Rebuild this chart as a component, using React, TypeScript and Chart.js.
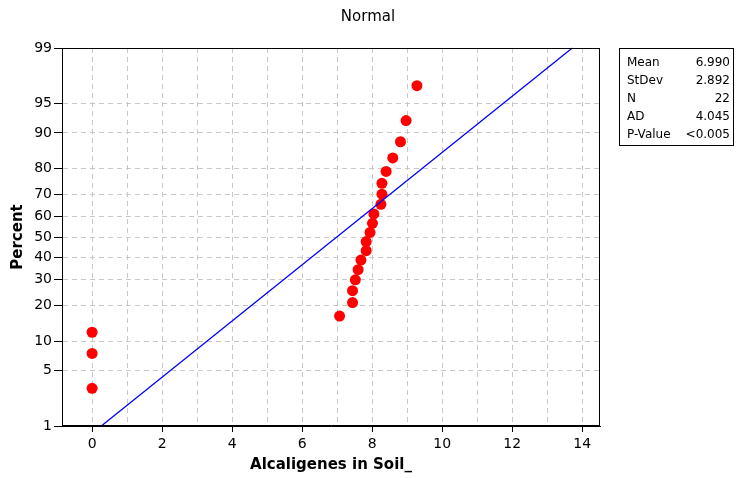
import React, { useEffect, useRef } from 'react';
import { Chart, registerables, LinearScale } from 'chart.js';

Chart.register(...registerables);

// ---- data ----
const xValues = [0, 0, 0, 7.07, 7.44, 7.44, 7.52, 7.6, 7.68, 7.83, 7.83, 7.94, 8.01, 8.05, 8.25, 8.28, 8.28, 8.4, 8.59, 8.81, 8.97, 9.28];
const percentValues = [3.125, 7.589, 12.054, 16.518, 20.982, 25.446, 29.911, 34.375, 38.839, 43.304, 47.768, 52.232, 56.696, 61.161, 65.625, 70.089, 74.554, 79.018, 83.482, 87.946, 92.411, 96.875];
const yTickPercents = [1, 5, 10, 20, 30, 40, 50, 60, 70, 80, 90, 95, 99];
const xTickValues = [0, 1, 2, 3, 4, 5, 6, 7, 8, 9, 10, 11, 12, 13, 14];
const statLabels = ['Mean', 'StDev', 'N', 'AD', 'P-Value'];
const statValues = ['6.990', '2.892', '22', '4.045', '<0.005'];
const fitMean = 6.99;
const fitStDev = 2.892;
const linePercents = [1, 99];

const FONT = "'DejaVu Sans', sans-serif";

function normInv(p: number): number {
  const a = [-3.969683028665376e1, 2.209460984245205e2, -2.759285104469687e2, 1.38357751867269e2, -3.066479806614716e1, 2.506628277459239];
  const b = [-5.447609879822406e1, 1.615858368580409e2, -1.556989798598866e2, 6.680131188771972e1, -1.328068155288572e1];
  const c = [-7.784894002430293e-3, -3.223964580411365e-1, -2.400758277161838, -2.549732539343734, 4.374664141464968, 2.938163982698783];
  const d = [7.784695709041462e-3, 3.224671290700398e-1, 2.445134137142996, 3.754408661907416];
  const pl = 0.02425;
  const ph = 1 - pl;
  if (p < pl) {
    const q = Math.sqrt(-2 * Math.log(p));
    return (((((c[0] * q + c[1]) * q + c[2]) * q + c[3]) * q + c[4]) * q + c[5]) / ((((d[0] * q + d[1]) * q + d[2]) * q + d[3]) * q + 1);
  }
  if (p <= ph) {
    const q = p - 0.5;
    const r = q * q;
    return ((((((a[0] * r + a[1]) * r + a[2]) * r + a[3]) * r + a[4]) * r + a[5]) * q) / (((((b[0] * r + b[1]) * r + b[2]) * r + b[3]) * r + b[4]) * r + 1);
  }
  const q = Math.sqrt(-2 * Math.log(1 - p));
  return -(((((c[0] * q + c[1]) * q + c[2]) * q + c[3]) * q + c[4]) * q + c[5]) / ((((d[0] * q + d[1]) * q + d[2]) * q + d[3]) * q + 1);
}

class ProbabilityScale extends (LinearScale as any) {
  static id = 'probability';
  static defaults = (LinearScale as any).defaults;
  _zStart = 0;
  _zRange = 1;
  determineDataLimits() {
    (this as any).min = yTickPercents[0];
    (this as any).max = yTickPercents[yTickPercents.length - 1];
  }
  buildTicks() {
    return yTickPercents.map((v) => ({ value: v }));
  }
  configure() {
    super.configure();
    this._zStart = normInv((this as any).min / 100);
    this._zRange = normInv((this as any).max / 100) - this._zStart;
  }
  getPixelForValue(value: number) {
    return (this as any).getPixelForDecimal((normInv(value / 100) - this._zStart) / this._zRange);
  }
  getValueForPixel(pixel: number) {
    const dec = (this as any).getDecimalForPixel(pixel);
    const z = this._zStart + dec * this._zRange;
    const t = 1 / (1 + 0.2316419 * Math.abs(z));
    const dd = 0.3989423 * Math.exp((-z * z) / 2);
    let pr = dd * t * (0.3193815 + t * (-0.3565638 + t * (1.781478 + t * (-1.821256 + t * 1.330274))));
    if (z > 0) pr = 1 - pr;
    return pr * 100;
  }
}
Chart.register(ProbabilityScale as any);

const decorPlugin = {
  id: 'decor',
  afterDraw(chart: any) {
    const { ctx, chartArea } = chart;
    ctx.save();
    ctx.setLineDash([]);
    ctx.strokeStyle = '#000';
    ctx.lineWidth = 1;
    ctx.strokeRect(Math.round(chartArea.left) + 0.5, Math.round(chartArea.top) + 0.5, Math.round(chartArea.right - chartArea.left) - 1, Math.round(chartArea.bottom - chartArea.top) - 1);
    // title
    ctx.fillStyle = '#000';
    ctx.font = `15px ${FONT}`;
    ctx.textAlign = 'center';
    ctx.textBaseline = 'middle';
    ctx.fillText('Normal', 368, 17.5);
    // stats box
    ctx.strokeRect(619.5, 48.5, 114, 97);
    ctx.font = `12px ${FONT}`;
    statLabels.forEach((lab, i) => {
      const y = 63 + i * 18;
      ctx.textAlign = 'left';
      ctx.fillText(lab, 627, y);
      ctx.textAlign = 'right';
      ctx.fillText(statValues[i], 730, y);
    });
    ctx.restore();
  },
};

export default function App() {
  const ref = useRef<HTMLCanvasElement>(null);
  useEffect(() => {
    if (!ref.current) return;
    const chart = new Chart(ref.current, {
      type: 'scatter',
      data: {
        datasets: [
          {
            type: 'line',
            data: linePercents.map((p) => ({ x: fitMean + fitStDev * normInv(p / 100), y: p })),
            borderColor: '#0000ff',
            borderWidth: 1.3,
            pointRadius: 0,
            fill: false,
          } as any,
          {
            type: 'scatter',
            data: xValues.map((x, i) => ({ x, y: percentValues[i] })),
            backgroundColor: '#ff0000',
            borderColor: '#ff0000',
            pointRadius: 5.5,
            borderWidth: 0,
          },
        ],
      },
      options: {
        animation: false,
        responsive: false,
        maintainAspectRatio: false,
        layout: { padding: { left: 0, right: 136, top: 48, bottom: 0 } },
        plugins: { legend: { display: false }, tooltip: { enabled: false }, title: { display: false } },
        scales: {
          x: {
            type: 'linear',
            min: -0.86,
            max: 14.51,
            afterBuildTicks: (scale: any) => {
              scale.ticks = xTickValues.map((v) => ({ value: v }));
            },
            afterFit: (scale: any) => {
              scale.height = 52;
            },
            ticks: {
              autoSkip: false,
              maxRotation: 0,
              padding: 4,
              color: '#000',
              font: { family: FONT, size: 14 },
              callback: (v: any) => (Number(v) % 2 === 0 ? String(v) : ''),
            },
            grid: {
              color: '#c8c8c8',
              lineWidth: 1,
              tickLength: 6,
              tickColor: (ctx: any) => (ctx.tick && ctx.tick.value % 2 !== 0 ? 'rgba(0,0,0,0)' : '#000'),
              tickBorderDash: [],
            },
            border: { display: true, color: '#000', dash: [5, 4] },
            title: {
              display: true,
              text: 'Alcaligenes in Soil_',
              color: '#000',
              font: { family: FONT, size: 15, weight: 'bold' },
              padding: { top: 0, bottom: 4 },
            },
          },
          y: {
            type: 'probability' as any,
            afterFit: (scale: any) => {
              scale.width = 62;
            },
            ticks: {
              autoSkip: false,
              padding: 2,
              color: '#000',
              font: { family: FONT, size: 14 },
              callback: (v: any) => String(v),
            },
            grid: {
              color: '#c8c8c8',
              lineWidth: 1,
              tickLength: 8,
              tickColor: '#000',
              tickBorderDash: [],
            },
            border: { display: true, color: '#000', dash: [5, 4] },
            title: {
              display: true,
              text: 'Percent',
              color: '#000',
              font: { family: FONT, size: 15, weight: 'bold' },
              padding: { top: 9, bottom: 0 },
            },
          } as any,
        },
      } as any,
      plugins: [decorPlugin],
    });
    return () => chart.destroy();
  }, []);
  return (
    <div style={{ position: 'fixed', left: 0, top: 0, width: 736, height: 478, background: '#fff' }}>
      <canvas ref={ref} width={736} height={478} style={{ width: 736, height: 478 }} />
    </div>
  );
}
